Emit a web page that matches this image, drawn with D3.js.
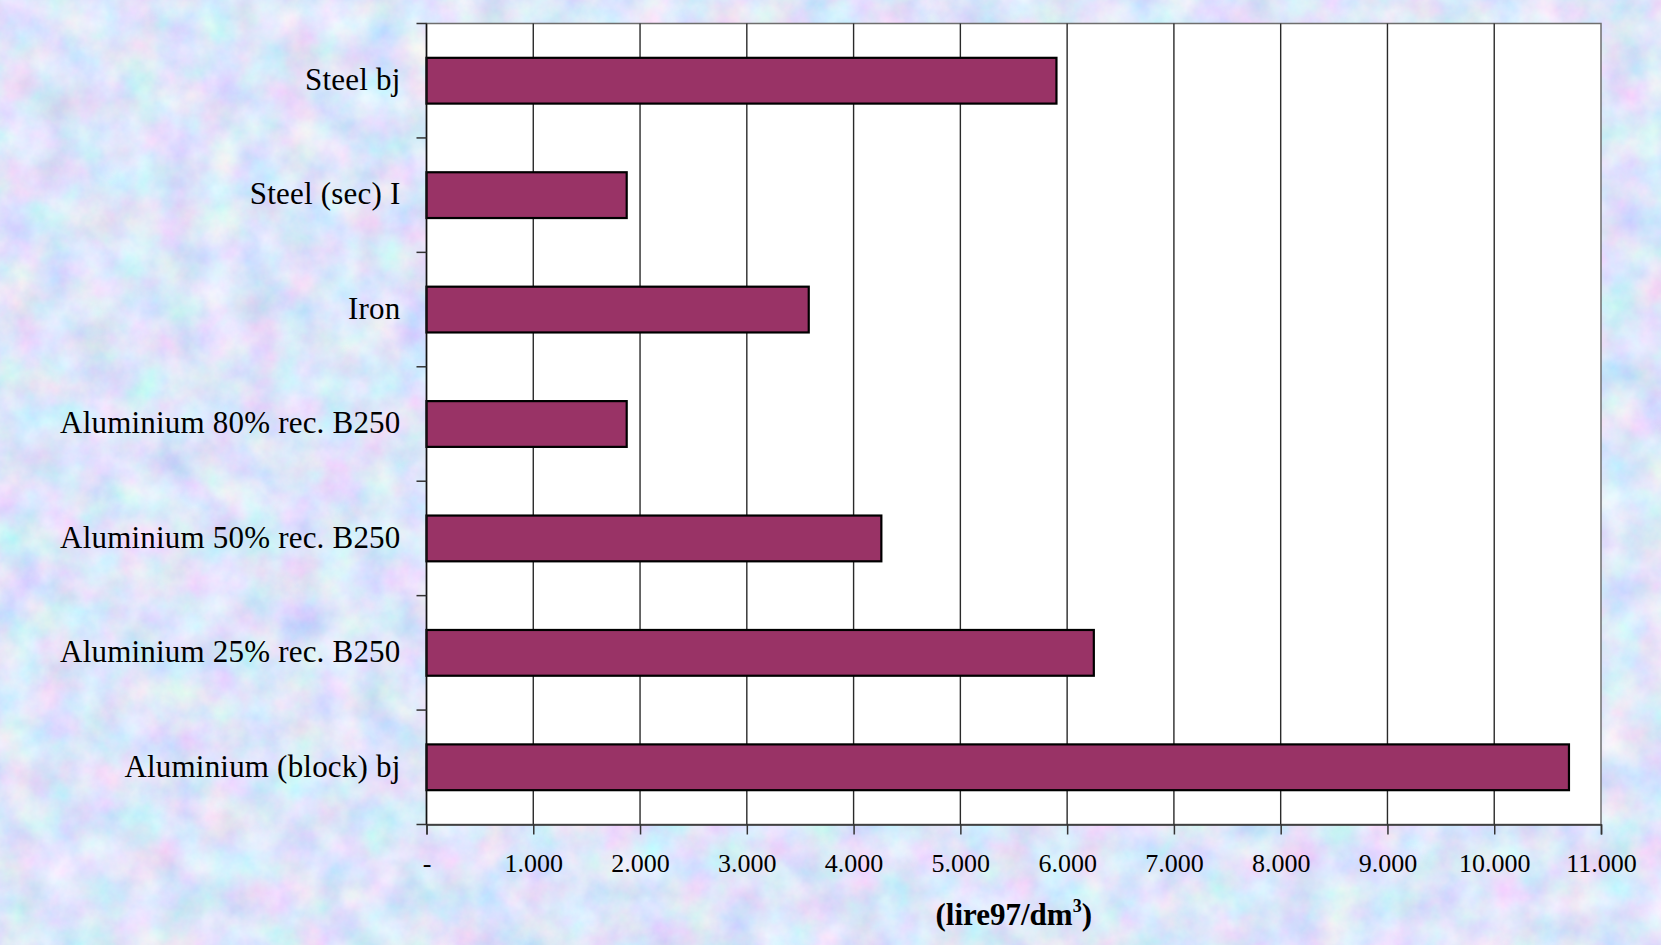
<!DOCTYPE html>
<html>
<head>
<meta charset="utf-8">
<script src="https://cdn.jsdelivr.net/npm/d3@7"></script>
<style>
  html, body { margin: 0; padding: 0; overflow: hidden; }
  svg { display: block; }
</style>
</head>
<body>
<svg id="chart" width="1661" height="945"></svg>
<script>
// Cost per unit volume of each material
const categories = [
  "Steel bj",
  "Steel (sec) I",
  "Iron",
  "Aluminium 80% rec. B250",
  "Aluminium 50% rec. B250",
  "Aluminium 25% rec. B250",
  "Aluminium (block) bj"
];
const values = [5900, 1875, 3580, 1875, 4260, 6250, 10700];
const xTickValues = [0, 1000, 2000, 3000, 4000, 5000, 6000, 7000, 8000, 9000, 10000, 11000];
const xTickLabels = ["-", "1.000", "2.000", "3.000", "4.000", "5.000", "6.000", "7.000", "8.000", "9.000", "10.000", "11.000"];

const W = 1661, H = 945;
const plot = { left: 426.5, right: 1601, top: 23.5, bottom: 824.5 };

const svg = d3.select("#chart");
const defs = svg.append("defs");

// Marbled pastel backdrop
const f = defs.append("filter").attr("id", "marble")
  .attr("x", 0).attr("y", 0).attr("width", W).attr("height", H)
  .attr("filterUnits", "userSpaceOnUse");
f.append("feTurbulence").attr("type", "fractalNoise")
  .attr("baseFrequency", "0.025").attr("numOctaves", 5).attr("seed", 7).attr("result", "n");
f.append("feColorMatrix").attr("in", "n").attr("type", "matrix")
  .attr("values", "0.6 0 0 0 0.42  0 0.45 0 0 0.56  0 0 0.25 0 0.83  0 0 0 0 1");

svg.append("rect").attr("width", W).attr("height", H).attr("fill", "#c0d0f2");
svg.append("rect").attr("width", W).attr("height", H).attr("filter", "url(#marble)");

const x = d3.scaleLinear().domain([0, 11000]).range([plot.left, plot.right]);
const y = d3.scaleBand().domain(categories).range([plot.top, plot.bottom])
  .paddingInner(0.6).paddingOuter(0.3);
const step = y.step();

// Plot area
svg.append("rect")
  .attr("x", plot.left).attr("y", plot.top)
  .attr("width", plot.right - plot.left).attr("height", plot.bottom - plot.top)
  .attr("fill", "#ffffff").attr("stroke", "#6e6e6e").attr("stroke-width", 1.5);

// Vertical gridlines
svg.append("g").selectAll("line")
  .data(xTickValues.slice(1, -1))
  .join("line")
  .attr("x1", d => x(d)).attr("x2", d => x(d))
  .attr("y1", plot.top).attr("y2", plot.bottom)
  .attr("stroke", "#2a2a2a").attr("stroke-width", 1.4);

// Bars
svg.append("g").selectAll("rect")
  .data(categories)
  .join("rect")
  .attr("x", x(0))
  .attr("y", d => y(d))
  .attr("width", (d, i) => x(values[i]) - x(0))
  .attr("height", y.bandwidth())
  .attr("fill", "#993366")
  .attr("stroke", "#000000")
  .attr("stroke-width", 2.2);

// X axis
const xAxis = d3.axisBottom(x)
  .tickValues(xTickValues)
  .tickFormat((d, i) => xTickLabels[i])
  .tickSize(10)
  .tickPadding(19);
const gx = svg.append("g")
  .attr("transform", `translate(0,${plot.bottom})`)
  .call(xAxis);
gx.select(".domain").attr("stroke", "#333").attr("stroke-width", 1.5);
gx.selectAll(".tick line").attr("stroke", "#333").attr("stroke-width", 1.5);
gx.selectAll(".tick text")
  .attr("font-family", "Liberation Serif, Times New Roman, serif")
  .attr("font-size", 26).attr("fill", "#000");

// Y axis: category labels, ticks at the slot boundaries
const gy = svg.append("g");
gy.append("line")
  .attr("x1", plot.left).attr("x2", plot.left)
  .attr("y1", plot.top).attr("y2", plot.bottom)
  .attr("stroke", "#111").attr("stroke-width", 1.5);
gy.selectAll("line.tk")
  .data(d3.range(categories.length + 1))
  .join("line").attr("class", "tk")
  .attr("x1", plot.left - 10).attr("x2", plot.left)
  .attr("y1", i => plot.top + i * step).attr("y2", i => plot.top + i * step)
  .attr("stroke", "#333").attr("stroke-width", 1.5);
gy.selectAll("text")
  .data(categories)
  .join("text")
  .attr("x", plot.left - 26)
  .attr("y", d => y(d) + y.bandwidth() / 2)
  .attr("dy", "0.3em")
  .attr("text-anchor", "end")
  .attr("font-family", "Liberation Serif, Times New Roman, serif")
  .attr("font-size", 31)
  .attr("letter-spacing", 0.2)
  .attr("fill", "#000")
  .text(d => d);

// Axis title
const title = svg.append("text")
  .attr("x", (plot.left + plot.right) / 2)
  .attr("y", 925)
  .attr("text-anchor", "middle")
  .attr("font-family", "Liberation Serif, Times New Roman, serif")
  .attr("font-size", 31)
  .attr("font-weight", "bold")
  .attr("fill", "#000");
title.append("tspan").text("(lire97/dm");
title.append("tspan").attr("font-size", 18).attr("dy", -13).text("3");
title.append("tspan").attr("dy", 13).text(")");
</script>
</body>
</html>
